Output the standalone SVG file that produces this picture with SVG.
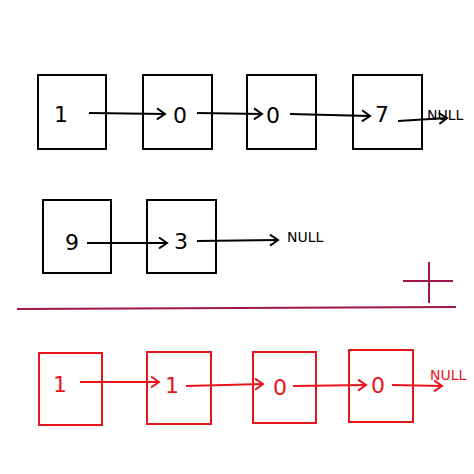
<svg xmlns="http://www.w3.org/2000/svg" width="474" height="474" viewBox="0 0 474 474">
<defs>
<style>
.box{fill:none;stroke:#000;stroke-width:2}
.rbox{fill:none;stroke:#e8141c;stroke-width:2}
.num{font-family:"DejaVu Sans",sans-serif;font-size:22px;text-anchor:middle;fill:#000}
.rnum{font-family:"DejaVu Sans",sans-serif;font-size:22px;text-anchor:middle;fill:#e8141c}
.null{font-family:"DejaVu Sans",sans-serif;font-size:14px;fill:#000}
.rnull{font-family:"DejaVu Sans",sans-serif;font-size:14px;fill:#e8141c}
.arr{fill:none;stroke:#000;stroke-width:2;marker-end:url(#ah)}
.rarr{fill:none;stroke:#e8141c;stroke-width:2;marker-end:url(#rah)}
</style>
<marker id="ah" markerUnits="userSpaceOnUse" markerWidth="14" markerHeight="14" refX="11" refY="7" orient="auto">
<path d="M3,1.5 L11,7 L3,12.5" fill="none" stroke="#000" stroke-width="2"/>
</marker>
<marker id="rah" markerUnits="userSpaceOnUse" markerWidth="14" markerHeight="14" refX="11" refY="7" orient="auto">
<path d="M3,1.5 L11,7 L3,12.5" fill="none" stroke="#e8141c" stroke-width="2"/>
</marker>
</defs>
<rect width="474" height="474" fill="#fff"/>
<g id="a1"><rect class="box" x="38" y="75" width="68" height="74"/><text class="num" x="61" y="122">1</text></g>
<g id="a2"><rect class="box" x="143" y="75" width="69" height="74"/><text class="num" x="180" y="123">0</text></g>
<g id="a3"><rect class="box" x="247" y="75" width="69" height="74"/><text class="num" x="273" y="123">0</text></g>
<g id="a4"><rect class="box" x="353" y="75" width="69" height="74"/><text class="num" x="382" y="122">7</text></g>
<text class="null" x="427" y="120">NULL</text>
<g id="b1"><rect class="box" x="43" y="200" width="68" height="73"/><text class="num" x="72" y="250">9</text></g>
<g id="b2"><rect class="box" x="147" y="200" width="69" height="73"/><text class="num" x="181" y="249">3</text></g>
<text class="null" x="287" y="242">NULL</text>
<g id="c1"><rect class="rbox" x="39" y="353" width="63" height="72"/><text class="rnum" x="60" y="392">1</text></g>
<g id="c2"><rect class="rbox" x="147" y="352" width="64" height="72"/><text class="rnum" x="172" y="393">1</text></g>
<g id="c3"><rect class="rbox" x="253" y="352" width="63" height="71"/><text class="rnum" x="280" y="395">0</text></g>
<g id="c4"><rect class="rbox" x="349" y="350" width="64" height="72"/><text class="rnum" x="378" y="393">0</text></g>
<text class="rnull" x="430" y="380">NULL</text>
<g id="connectors">
<path class="arr" d="M89,113 L165,114"/>
<path class="arr" d="M197,113 L262,114"/>
<path class="arr" d="M290,114 L370,116"/>
<path class="arr" d="M398,121 L447,118"/>
<path class="arr" d="M87,243 L167,243"/>
<path class="arr" d="M197,241 L278,240"/>
<path class="rarr" d="M80,382 L159,382"/>
<path class="rarr" d="M186,386 L263,384"/>
<path class="rarr" d="M293,386 L366,385"/>
<path class="rarr" d="M392,385 L442,386"/>
</g>
<g id="plus" stroke="#a0164e" stroke-width="2" fill="none">
<path d="M403,281 L453,281"/>
<path d="M429,262 L429,303"/>
<path d="M17,309 L456,307"/>
</g>
</svg>
